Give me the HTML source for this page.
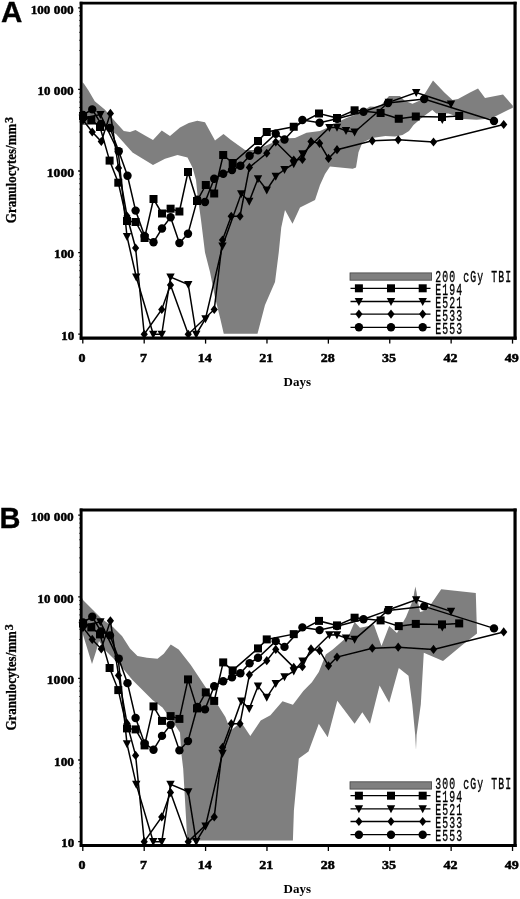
<!DOCTYPE html>
<html><head><meta charset="utf-8"><title>Figure</title>
<style>
html,body{margin:0;padding:0;background:#fff;}
body{width:520px;height:899px;overflow:hidden;font-family:"Liberation Sans",sans-serif;}
svg{display:block;filter:grayscale(1);}
</style></head><body>
<svg width="520" height="899" viewBox="0 0 520 899">
<defs><filter id="soft" x="0" y="0" width="100%" height="100%" filterUnits="userSpaceOnUse"><feGaussianBlur stdDeviation="0.35"/></filter></defs>
<rect width="520" height="899" fill="#fff"/>
<g filter="url(#soft)">
<polygon fill="#7f7f7f" points="82.50,82.00 84.50,84.50 88.50,90.50 94.75,101.25 104.75,109.50 110.00,115.50 116.00,122.50 123.75,131.00 130.00,132.00 135.50,130.00 145.00,135.50 153.00,140.00 161.75,130.50 170.00,136.00 180.00,127.50 188.75,123.00 197.30,120.80 205.00,122.30 208.00,127.70 215.00,140.50 223.50,134.00 231.00,140.00 245.00,150.00 255.00,150.00 265.00,146.00 282.50,138.50 295.00,138.00 306.50,132.70 320.00,131.00 326.70,128.00 341.00,120.50 347.00,117.70 357.50,114.00 370.00,106.50 379.60,107.00 389.00,96.00 400.00,96.00 405.00,101.00 412.50,103.75 420.00,100.50 424.00,95.00 433.00,80.40 444.40,92.50 452.50,100.00 458.00,99.00 470.00,92.50 478.00,88.50 485.00,98.00 503.00,94.50 512.80,105.80 512.80,107.70 491.00,118.50 476.70,119.70 463.00,119.00 454.00,115.40 448.50,113.40 436.30,113.40 432.30,110.00 423.00,116.70 413.50,125.00 409.00,131.00 402.50,135.00 395.00,136.50 385.40,136.00 372.00,138.00 362.30,142.70 358.50,152.30 356.00,167.50 352.70,168.70 330.00,166.50 325.00,174.00 320.00,185.00 315.00,200.00 300.00,207.50 292.50,223.75 285.00,210.00 281.25,227.50 278.75,252.50 275.00,282.00 265.00,305.00 257.50,333.75 223.75,333.75 220.00,317.50 215.00,297.50 210.00,272.00 205.00,252.50 201.00,220.00 197.50,195.00 196.00,180.00 192.50,167.50 187.50,157.50 177.50,155.00 165.00,158.75 153.00,165.00 132.50,152.50 116.00,134.00 100.00,125.00 82.00,125.00"/>
<polyline fill="none" stroke="#000" stroke-width="1.5" points="83.00,115.00 92.25,109.40 101.00,124.00 110.00,128.00 118.75,151.25 127.50,175.75 135.60,210.60 144.60,236.00 153.50,242.30 162.00,228.50 170.60,217.30 179.40,243.00 188.00,233.70 197.30,199.60 205.00,202.00 214.20,178.80 223.20,173.80 232.00,170.00 240.40,165.80 249.60,155.80 258.00,150.40 275.75,133.75 284.50,139.50 302.40,120.00 319.60,122.70 337.00,118.75 363.50,111.80 388.00,103.00 424.20,99.00 494.00,121.00"/>
<g fill="#000"><circle cx="83.00" cy="115.00" r="4.2"/><circle cx="92.25" cy="109.40" r="4.2"/><circle cx="101.00" cy="124.00" r="4.2"/><circle cx="110.00" cy="128.00" r="4.2"/><circle cx="118.75" cy="151.25" r="4.2"/><circle cx="127.50" cy="175.75" r="4.2"/><circle cx="135.60" cy="210.60" r="4.2"/><circle cx="144.60" cy="236.00" r="4.2"/><circle cx="153.50" cy="242.30" r="4.2"/><circle cx="162.00" cy="228.50" r="4.2"/><circle cx="170.60" cy="217.30" r="4.2"/><circle cx="179.40" cy="243.00" r="4.2"/><circle cx="188.00" cy="233.70" r="4.2"/><circle cx="197.30" cy="199.60" r="4.2"/><circle cx="205.00" cy="202.00" r="4.2"/><circle cx="214.20" cy="178.80" r="4.2"/><circle cx="223.20" cy="173.80" r="4.2"/><circle cx="232.00" cy="170.00" r="4.2"/><circle cx="240.40" cy="165.80" r="4.2"/><circle cx="249.60" cy="155.80" r="4.2"/><circle cx="258.00" cy="150.40" r="4.2"/><circle cx="275.75" cy="133.75" r="4.2"/><circle cx="284.50" cy="139.50" r="4.2"/><circle cx="302.40" cy="120.00" r="4.2"/><circle cx="319.60" cy="122.70" r="4.2"/><circle cx="337.00" cy="118.75" r="4.2"/><circle cx="363.50" cy="111.80" r="4.2"/><circle cx="388.00" cy="103.00" r="4.2"/><circle cx="424.20" cy="99.00" r="4.2"/><circle cx="494.00" cy="121.00" r="4.2"/></g>
<polyline fill="none" stroke="#000" stroke-width="1.5" points="83.00,116.00 91.30,120.00 100.00,127.00 109.60,160.60 118.30,182.70 127.00,221.00 135.60,222.00 144.60,238.00 153.50,199.00 162.00,213.50 170.60,208.70 179.40,211.50 188.00,172.00 197.00,201.00 205.80,185.00 214.20,193.50 223.20,155.00 232.70,163.00 258.00,141.00 266.75,132.00 293.75,126.75 319.00,113.50 337.00,118.00 354.60,110.30 380.60,113.00 398.75,118.75 415.80,116.50 442.00,117.00 459.20,116.00"/>
<g fill="#000"><rect x="79.00" y="112.00" width="8" height="8"/><rect x="87.30" y="116.00" width="8" height="8"/><rect x="96.00" y="123.00" width="8" height="8"/><rect x="105.60" y="156.60" width="8" height="8"/><rect x="114.30" y="178.70" width="8" height="8"/><rect x="123.00" y="217.00" width="8" height="8"/><rect x="131.60" y="218.00" width="8" height="8"/><rect x="140.60" y="234.00" width="8" height="8"/><rect x="149.50" y="195.00" width="8" height="8"/><rect x="158.00" y="209.50" width="8" height="8"/><rect x="166.60" y="204.70" width="8" height="8"/><rect x="175.40" y="207.50" width="8" height="8"/><rect x="184.00" y="168.00" width="8" height="8"/><rect x="193.00" y="197.00" width="8" height="8"/><rect x="201.80" y="181.00" width="8" height="8"/><rect x="210.20" y="189.50" width="8" height="8"/><rect x="219.20" y="151.00" width="8" height="8"/><rect x="228.70" y="159.00" width="8" height="8"/><rect x="254.00" y="137.00" width="8" height="8"/><rect x="262.75" y="128.00" width="8" height="8"/><rect x="289.75" y="122.75" width="8" height="8"/><rect x="315.00" y="109.50" width="8" height="8"/><rect x="333.00" y="114.00" width="8" height="8"/><rect x="350.60" y="106.30" width="8" height="8"/><rect x="376.60" y="109.00" width="8" height="8"/><rect x="394.75" y="114.75" width="8" height="8"/><rect x="411.80" y="112.50" width="8" height="8"/><rect x="438.00" y="113.00" width="8" height="8"/><rect x="455.20" y="112.00" width="8" height="8"/></g>
<polyline fill="none" stroke="#000" stroke-width="1.5" points="83.00,120.00 92.25,132.00 101.30,141.50 110.40,113.40 118.50,168.00 127.00,216.00 135.60,248.00 144.25,334.25 161.75,309.50 170.50,285.00 188.25,334.25 214.25,309.50 222.50,240.00 231.25,216.25 240.00,216.25 249.40,167.40 266.75,153.25 275.75,142.00 293.75,160.00 302.40,159.30 311.00,141.50 319.60,143.30 328.50,158.40 337.00,149.70 372.30,140.80 398.20,139.80 433.50,142.00 503.70,124.50"/>
<g fill="#000"><polygon points="83.00,115.40 86.60,120.00 83.00,124.60 79.40,120.00"/><polygon points="92.25,127.40 95.85,132.00 92.25,136.60 88.65,132.00"/><polygon points="101.30,136.90 104.90,141.50 101.30,146.10 97.70,141.50"/><polygon points="110.40,108.80 114.00,113.40 110.40,118.00 106.80,113.40"/><polygon points="118.50,163.40 122.10,168.00 118.50,172.60 114.90,168.00"/><polygon points="127.00,211.40 130.60,216.00 127.00,220.60 123.40,216.00"/><polygon points="135.60,243.40 139.20,248.00 135.60,252.60 132.00,248.00"/><polygon points="144.25,329.65 147.85,334.25 144.25,338.85 140.65,334.25"/><polygon points="161.75,304.90 165.35,309.50 161.75,314.10 158.15,309.50"/><polygon points="170.50,280.40 174.10,285.00 170.50,289.60 166.90,285.00"/><polygon points="188.25,329.65 191.85,334.25 188.25,338.85 184.65,334.25"/><polygon points="214.25,304.90 217.85,309.50 214.25,314.10 210.65,309.50"/><polygon points="222.50,235.40 226.10,240.00 222.50,244.60 218.90,240.00"/><polygon points="231.25,211.65 234.85,216.25 231.25,220.85 227.65,216.25"/><polygon points="240.00,211.65 243.60,216.25 240.00,220.85 236.40,216.25"/><polygon points="249.40,162.80 253.00,167.40 249.40,172.00 245.80,167.40"/><polygon points="266.75,148.65 270.35,153.25 266.75,157.85 263.15,153.25"/><polygon points="275.75,137.40 279.35,142.00 275.75,146.60 272.15,142.00"/><polygon points="293.75,155.40 297.35,160.00 293.75,164.60 290.15,160.00"/><polygon points="302.40,154.70 306.00,159.30 302.40,163.90 298.80,159.30"/><polygon points="311.00,136.90 314.60,141.50 311.00,146.10 307.40,141.50"/><polygon points="319.60,138.70 323.20,143.30 319.60,147.90 316.00,143.30"/><polygon points="328.50,153.80 332.10,158.40 328.50,163.00 324.90,158.40"/><polygon points="337.00,145.10 340.60,149.70 337.00,154.30 333.40,149.70"/><polygon points="372.30,136.20 375.90,140.80 372.30,145.40 368.70,140.80"/><polygon points="398.20,135.20 401.80,139.80 398.20,144.40 394.60,139.80"/><polygon points="433.50,137.40 437.10,142.00 433.50,146.60 429.90,142.00"/><polygon points="503.70,119.90 507.30,124.50 503.70,129.10 500.10,124.50"/></g>
<polyline fill="none" stroke="#000" stroke-width="1.5" points="83.00,118.00 100.40,114.50 118.30,152.00 127.00,236.50 136.25,277.00 153.25,334.25 161.75,334.25 170.50,277.00 188.25,284.50 196.25,334.25 205.50,318.75 222.50,246.00 241.25,193.75 249.25,201.25 258.00,178.75 266.75,190.00 275.75,176.25 284.50,169.50 293.75,163.75 302.50,153.75 329.40,127.50 337.00,127.40 346.00,130.70 354.60,132.00 388.80,102.30 416.20,92.50 451.00,104.00"/>
<g fill="#000"><polygon points="78.80,114.40 87.20,114.40 83.00,122.40"/><polygon points="96.20,110.90 104.60,110.90 100.40,118.90"/><polygon points="114.10,148.40 122.50,148.40 118.30,156.40"/><polygon points="122.80,232.90 131.20,232.90 127.00,240.90"/><polygon points="132.05,273.40 140.45,273.40 136.25,281.40"/><polygon points="149.05,330.65 157.45,330.65 153.25,338.65"/><polygon points="157.55,330.65 165.95,330.65 161.75,338.65"/><polygon points="166.30,273.40 174.70,273.40 170.50,281.40"/><polygon points="184.05,280.90 192.45,280.90 188.25,288.90"/><polygon points="192.05,330.65 200.45,330.65 196.25,338.65"/><polygon points="201.30,315.15 209.70,315.15 205.50,323.15"/><polygon points="218.30,242.40 226.70,242.40 222.50,250.40"/><polygon points="237.05,190.15 245.45,190.15 241.25,198.15"/><polygon points="245.05,197.65 253.45,197.65 249.25,205.65"/><polygon points="253.80,175.15 262.20,175.15 258.00,183.15"/><polygon points="262.55,186.40 270.95,186.40 266.75,194.40"/><polygon points="271.55,172.65 279.95,172.65 275.75,180.65"/><polygon points="280.30,165.90 288.70,165.90 284.50,173.90"/><polygon points="289.55,160.15 297.95,160.15 293.75,168.15"/><polygon points="298.30,150.15 306.70,150.15 302.50,158.15"/><polygon points="325.20,123.90 333.60,123.90 329.40,131.90"/><polygon points="332.80,123.80 341.20,123.80 337.00,131.80"/><polygon points="341.80,127.10 350.20,127.10 346.00,135.10"/><polygon points="350.40,128.40 358.80,128.40 354.60,136.40"/><polygon points="384.60,98.70 393.00,98.70 388.80,106.70"/><polygon points="412.00,88.90 420.40,88.90 416.20,96.90"/><polygon points="446.80,100.40 455.20,100.40 451.00,108.40"/></g>
<g fill="#000"><polygon points="438.10,116.00 446.50,116.00 442.30,124.00"/></g>
<g stroke="#000" fill="none"><line x1="81.15" y1="1.7" x2="81.15" y2="339.7" stroke-width="2.9"/><line x1="515.05" y1="1.7" x2="515.05" y2="339.7" stroke-width="3.2"/><line x1="79.7" y1="3.1" x2="516.65" y2="3.1" stroke-width="2.8"/><line x1="79.7" y1="338.1" x2="516.65" y2="338.1" stroke-width="3.2"/><line x1="82.80" y1="339" x2="82.80" y2="343.6" stroke-width="1.3"/><line x1="144.19" y1="339" x2="144.19" y2="343.6" stroke-width="1.3"/><line x1="205.58" y1="339" x2="205.58" y2="343.6" stroke-width="1.3"/><line x1="266.97" y1="339" x2="266.97" y2="343.6" stroke-width="1.3"/><line x1="328.36" y1="339" x2="328.36" y2="343.6" stroke-width="1.3"/><line x1="389.75" y1="339" x2="389.75" y2="343.6" stroke-width="1.3"/><line x1="451.14" y1="339" x2="451.14" y2="343.6" stroke-width="1.3"/><line x1="512.53" y1="339" x2="512.53" y2="343.6" stroke-width="1.3"/><line x1="78.2" y1="334.20" x2="80" y2="334.20" stroke-width="1.3"/><line x1="79.0" y1="309.64" x2="80" y2="309.64" stroke-width="0.9" stroke="#333"/><line x1="79.0" y1="295.27" x2="80" y2="295.27" stroke-width="0.9" stroke="#333"/><line x1="79.0" y1="285.07" x2="80" y2="285.07" stroke-width="0.9" stroke="#333"/><line x1="79.0" y1="277.16" x2="80" y2="277.16" stroke-width="0.9" stroke="#333"/><line x1="79.0" y1="270.70" x2="80" y2="270.70" stroke-width="0.9" stroke="#333"/><line x1="79.0" y1="265.24" x2="80" y2="265.24" stroke-width="0.9" stroke="#333"/><line x1="79.0" y1="260.51" x2="80" y2="260.51" stroke-width="0.9" stroke="#333"/><line x1="79.0" y1="256.33" x2="80" y2="256.33" stroke-width="0.9" stroke="#333"/><line x1="78.2" y1="252.60" x2="80" y2="252.60" stroke-width="1.3"/><line x1="79.0" y1="228.04" x2="80" y2="228.04" stroke-width="0.9" stroke="#333"/><line x1="79.0" y1="213.67" x2="80" y2="213.67" stroke-width="0.9" stroke="#333"/><line x1="79.0" y1="203.47" x2="80" y2="203.47" stroke-width="0.9" stroke="#333"/><line x1="79.0" y1="195.56" x2="80" y2="195.56" stroke-width="0.9" stroke="#333"/><line x1="79.0" y1="189.10" x2="80" y2="189.10" stroke-width="0.9" stroke="#333"/><line x1="79.0" y1="183.64" x2="80" y2="183.64" stroke-width="0.9" stroke="#333"/><line x1="79.0" y1="178.91" x2="80" y2="178.91" stroke-width="0.9" stroke="#333"/><line x1="79.0" y1="174.73" x2="80" y2="174.73" stroke-width="0.9" stroke="#333"/><line x1="78.2" y1="171.00" x2="80" y2="171.00" stroke-width="1.3"/><line x1="79.0" y1="146.44" x2="80" y2="146.44" stroke-width="0.9" stroke="#333"/><line x1="79.0" y1="132.07" x2="80" y2="132.07" stroke-width="0.9" stroke="#333"/><line x1="79.0" y1="121.87" x2="80" y2="121.87" stroke-width="0.9" stroke="#333"/><line x1="79.0" y1="113.96" x2="80" y2="113.96" stroke-width="0.9" stroke="#333"/><line x1="79.0" y1="107.50" x2="80" y2="107.50" stroke-width="0.9" stroke="#333"/><line x1="79.0" y1="102.04" x2="80" y2="102.04" stroke-width="0.9" stroke="#333"/><line x1="79.0" y1="97.31" x2="80" y2="97.31" stroke-width="0.9" stroke="#333"/><line x1="79.0" y1="93.13" x2="80" y2="93.13" stroke-width="0.9" stroke="#333"/><line x1="78.2" y1="89.40" x2="80" y2="89.40" stroke-width="1.3"/><line x1="79.0" y1="64.84" x2="80" y2="64.84" stroke-width="0.9" stroke="#333"/><line x1="79.0" y1="50.47" x2="80" y2="50.47" stroke-width="0.9" stroke="#333"/><line x1="79.0" y1="40.27" x2="80" y2="40.27" stroke-width="0.9" stroke="#333"/><line x1="79.0" y1="32.36" x2="80" y2="32.36" stroke-width="0.9" stroke="#333"/><line x1="79.0" y1="25.90" x2="80" y2="25.90" stroke-width="0.9" stroke="#333"/><line x1="79.0" y1="20.44" x2="80" y2="20.44" stroke-width="0.9" stroke="#333"/><line x1="79.0" y1="15.71" x2="80" y2="15.71" stroke-width="0.9" stroke="#333"/><line x1="79.0" y1="11.53" x2="80" y2="11.53" stroke-width="0.9" stroke="#333"/><line x1="78.2" y1="7.80" x2="80" y2="7.80" stroke-width="1.3"/></g>
<text x="0.9" y="22.1" font-family="Liberation Sans" font-weight="bold" font-size="29.6" stroke="#000" stroke-width="0.3">A</text>
<text x="30.8" y="13.60" textLength="19.6" lengthAdjust="spacingAndGlyphs" font-family="Liberation Serif" font-weight="bold" font-size="12" stroke="#000" stroke-width="0.45">100</text>
<text x="53.8" y="13.60" textLength="19.9" lengthAdjust="spacingAndGlyphs" font-family="Liberation Serif" font-weight="bold" font-size="12" stroke="#000" stroke-width="0.45">000</text>
<text x="37.5" y="95.20" textLength="12.9" lengthAdjust="spacingAndGlyphs" font-family="Liberation Serif" font-weight="bold" font-size="12" stroke="#000" stroke-width="0.45">10</text>
<text x="53.8" y="95.20" textLength="19.9" lengthAdjust="spacingAndGlyphs" font-family="Liberation Serif" font-weight="bold" font-size="12" stroke="#000" stroke-width="0.45">000</text>
<text x="46.8" y="176.80" textLength="27.2" lengthAdjust="spacingAndGlyphs" font-family="Liberation Serif" font-weight="bold" font-size="12" stroke="#000" stroke-width="0.45">1000</text>
<text x="54" y="258.40" textLength="20.0" lengthAdjust="spacingAndGlyphs" font-family="Liberation Serif" font-weight="bold" font-size="12" stroke="#000" stroke-width="0.45">100</text>
<text x="61.2" y="340.00" textLength="13.0" lengthAdjust="spacingAndGlyphs" font-family="Liberation Serif" font-weight="bold" font-size="12" stroke="#000" stroke-width="0.45">10</text>
<text x="78.60" y="362" textLength="7.0" lengthAdjust="spacingAndGlyphs" font-family="Liberation Serif" font-weight="bold" font-size="12.2" stroke="#000" stroke-width="0.5">0</text>
<text x="139.99" y="362" textLength="7.0" lengthAdjust="spacingAndGlyphs" font-family="Liberation Serif" font-weight="bold" font-size="12.2" stroke="#000" stroke-width="0.5">7</text>
<text x="197.88" y="362" textLength="14.0" lengthAdjust="spacingAndGlyphs" font-family="Liberation Serif" font-weight="bold" font-size="12.2" stroke="#000" stroke-width="0.5">14</text>
<text x="259.27" y="362" textLength="14.0" lengthAdjust="spacingAndGlyphs" font-family="Liberation Serif" font-weight="bold" font-size="12.2" stroke="#000" stroke-width="0.5">21</text>
<text x="320.66" y="362" textLength="14.0" lengthAdjust="spacingAndGlyphs" font-family="Liberation Serif" font-weight="bold" font-size="12.2" stroke="#000" stroke-width="0.5">28</text>
<text x="382.05" y="362" textLength="14.0" lengthAdjust="spacingAndGlyphs" font-family="Liberation Serif" font-weight="bold" font-size="12.2" stroke="#000" stroke-width="0.5">35</text>
<text x="443.44" y="362" textLength="14.0" lengthAdjust="spacingAndGlyphs" font-family="Liberation Serif" font-weight="bold" font-size="12.2" stroke="#000" stroke-width="0.5">42</text>
<text x="504.83" y="362" textLength="14.0" lengthAdjust="spacingAndGlyphs" font-family="Liberation Serif" font-weight="bold" font-size="12.2" stroke="#000" stroke-width="0.5">49</text>
<text x="283.5" y="386" font-family="Liberation Serif" font-weight="bold" font-size="13">Days</text>
<g transform="translate(16.2,223.2) rotate(-90)"><text x="0" y="0" textLength="99.5" lengthAdjust="spacingAndGlyphs" font-family="Liberation Serif" font-weight="bold" font-size="15" stroke="#000" stroke-width="0.3">Granulocytes/mm</text><text x="100.3" y="-3.7" font-family="Liberation Serif" font-weight="bold" font-size="12" stroke="#000" stroke-width="0.3">3</text></g>
<rect x="350" y="272.9" width="81.6" height="7.3" fill="#7f7f7f" stroke="#444" stroke-width="0.8"/>
<line x1="350.5" y1="288.3" x2="430.5" y2="288.3" stroke="#000" stroke-width="1.3"/><g fill="#000"><rect x="354.90" y="284.30" width="8" height="8"/><rect x="387.00" y="284.30" width="8" height="8"/><rect x="418.70" y="284.30" width="8" height="8"/></g>
<line x1="350.5" y1="301.5" x2="430.5" y2="301.5" stroke="#000" stroke-width="1.3"/><g fill="#000"><polygon points="354.70,297.90 363.10,297.90 358.90,305.90"/><polygon points="386.80,297.90 395.20,297.90 391.00,305.90"/><polygon points="418.50,297.90 426.90,297.90 422.70,305.90"/></g>
<line x1="350.5" y1="314.1" x2="430.5" y2="314.1" stroke="#000" stroke-width="1.3"/><g fill="#000"><polygon points="358.90,309.50 362.50,314.10 358.90,318.70 355.30,314.10"/><polygon points="391.00,309.50 394.60,314.10 391.00,318.70 387.40,314.10"/><polygon points="422.70,309.50 426.30,314.10 422.70,318.70 419.10,314.10"/></g>
<line x1="350.5" y1="327.3" x2="430.5" y2="327.3" stroke="#000" stroke-width="1.3"/><g fill="#000"><circle cx="358.90" cy="327.30" r="4.2"/><circle cx="391.00" cy="327.30" r="4.2"/><circle cx="422.70" cy="327.30" r="4.2"/></g>
<text transform="translate(435.3,281.80) scale(0.63,1)" x="0" y="0" letter-spacing="1.751" font-family="Liberation Mono" font-size="15.6" fill="#000" stroke="#000" stroke-width="0.35">200 cGy TBI</text>
<text transform="translate(435.3,294.80) scale(0.63,1)" x="0" y="0" letter-spacing="1.751" font-family="Liberation Mono" font-size="15.6" fill="#000" stroke="#000" stroke-width="0.35">E194</text>
<text transform="translate(435.3,307.70) scale(0.63,1)" x="0" y="0" letter-spacing="1.751" font-family="Liberation Mono" font-size="15.6" fill="#000" stroke="#000" stroke-width="0.35">E521</text>
<text transform="translate(435.3,320.50) scale(0.63,1)" x="0" y="0" letter-spacing="1.751" font-family="Liberation Mono" font-size="15.6" fill="#000" stroke="#000" stroke-width="0.35">E533</text>
<text transform="translate(435.3,333.60) scale(0.63,1)" x="0" y="0" letter-spacing="1.751" font-family="Liberation Mono" font-size="15.6" fill="#000" stroke="#000" stroke-width="0.35">E553</text>
<polygon fill="#7f7f7f" points="82.00,598.00 83.00,600.00 93.00,610.00 102.00,619.00 113.00,627.00 122.00,636.00 130.00,648.50 137.50,656.00 147.00,657.70 157.50,658.75 163.75,653.75 170.75,644.50 178.70,649.40 190.80,665.00 204.60,685.80 213.30,697.90 225.40,717.00 230.60,730.80 241.00,722.00 250.30,736.00 260.70,720.40 270.40,715.20 282.50,701.30 292.90,704.80 303.30,691.00 311.90,682.30 318.80,672.00 325.80,654.60 332.70,649.40 348.80,635.40 354.60,622.00 360.00,627.70 369.00,626.00 373.80,624.60 381.50,646.00 389.20,626.00 397.00,633.00 406.00,617.00 413.00,600.00 414.30,592.00 415.40,586.50 416.50,592.00 417.70,600.00 420.00,612.00 424.60,610.80 427.70,609.00 441.20,589.20 475.80,593.00 477.00,633.50 462.30,645.00 443.00,661.00 423.80,652.70 420.80,704.60 416.60,735.00 416.00,750.00 415.20,735.00 412.30,704.60 408.50,675.80 398.80,668.00 389.20,702.70 379.60,685.40 370.00,723.80 362.30,712.30 354.60,723.80 337.30,700.80 327.70,737.30 318.80,723.80 308.50,751.50 298.80,758.50 293.90,810.40 292.90,840.50 187.30,840.50 185.60,810.40 183.20,768.80 181.25,752.50 180.00,732.50 175.00,725.00 162.50,707.50 152.50,700.00 142.50,690.00 132.50,680.00 120.00,665.00 105.00,650.00 99.00,641.00 96.00,651.50 92.00,664.00 86.80,647.00 82.00,631.50"/>
<polyline fill="none" stroke="#000" stroke-width="1.5" points="83.00,622.40 92.25,616.80 101.00,631.40 110.00,635.40 118.75,658.65 127.50,683.15 135.60,718.00 144.60,743.40 153.50,749.70 162.00,735.90 170.60,724.70 179.40,750.40 188.00,741.10 197.30,707.00 205.00,709.40 214.20,686.20 223.20,681.20 232.00,677.40 240.40,673.20 249.60,663.20 258.00,657.80 275.75,641.15 284.50,646.90 302.40,627.40 319.60,630.10 337.00,626.15 363.50,619.20 388.00,610.40 424.20,606.40 494.00,628.40"/>
<g fill="#000"><circle cx="83.00" cy="622.40" r="4.2"/><circle cx="92.25" cy="616.80" r="4.2"/><circle cx="101.00" cy="631.40" r="4.2"/><circle cx="110.00" cy="635.40" r="4.2"/><circle cx="118.75" cy="658.65" r="4.2"/><circle cx="127.50" cy="683.15" r="4.2"/><circle cx="135.60" cy="718.00" r="4.2"/><circle cx="144.60" cy="743.40" r="4.2"/><circle cx="153.50" cy="749.70" r="4.2"/><circle cx="162.00" cy="735.90" r="4.2"/><circle cx="170.60" cy="724.70" r="4.2"/><circle cx="179.40" cy="750.40" r="4.2"/><circle cx="188.00" cy="741.10" r="4.2"/><circle cx="197.30" cy="707.00" r="4.2"/><circle cx="205.00" cy="709.40" r="4.2"/><circle cx="214.20" cy="686.20" r="4.2"/><circle cx="223.20" cy="681.20" r="4.2"/><circle cx="232.00" cy="677.40" r="4.2"/><circle cx="240.40" cy="673.20" r="4.2"/><circle cx="249.60" cy="663.20" r="4.2"/><circle cx="258.00" cy="657.80" r="4.2"/><circle cx="275.75" cy="641.15" r="4.2"/><circle cx="284.50" cy="646.90" r="4.2"/><circle cx="302.40" cy="627.40" r="4.2"/><circle cx="319.60" cy="630.10" r="4.2"/><circle cx="337.00" cy="626.15" r="4.2"/><circle cx="363.50" cy="619.20" r="4.2"/><circle cx="388.00" cy="610.40" r="4.2"/><circle cx="424.20" cy="606.40" r="4.2"/><circle cx="494.00" cy="628.40" r="4.2"/></g>
<polyline fill="none" stroke="#000" stroke-width="1.5" points="83.00,623.40 91.30,627.40 100.00,634.40 109.60,668.00 118.30,690.10 127.00,728.40 135.60,729.40 144.60,745.40 153.50,706.40 162.00,720.90 170.60,716.10 179.40,718.90 188.00,679.40 197.00,708.40 205.80,692.40 214.20,700.90 223.20,662.40 232.70,670.40 258.00,648.40 266.75,639.40 293.75,634.15 319.00,620.90 337.00,625.40 354.60,617.70 380.60,620.40 398.75,626.15 415.80,623.90 442.00,624.40 459.20,623.40"/>
<g fill="#000"><rect x="79.00" y="619.40" width="8" height="8"/><rect x="87.30" y="623.40" width="8" height="8"/><rect x="96.00" y="630.40" width="8" height="8"/><rect x="105.60" y="664.00" width="8" height="8"/><rect x="114.30" y="686.10" width="8" height="8"/><rect x="123.00" y="724.40" width="8" height="8"/><rect x="131.60" y="725.40" width="8" height="8"/><rect x="140.60" y="741.40" width="8" height="8"/><rect x="149.50" y="702.40" width="8" height="8"/><rect x="158.00" y="716.90" width="8" height="8"/><rect x="166.60" y="712.10" width="8" height="8"/><rect x="175.40" y="714.90" width="8" height="8"/><rect x="184.00" y="675.40" width="8" height="8"/><rect x="193.00" y="704.40" width="8" height="8"/><rect x="201.80" y="688.40" width="8" height="8"/><rect x="210.20" y="696.90" width="8" height="8"/><rect x="219.20" y="658.40" width="8" height="8"/><rect x="228.70" y="666.40" width="8" height="8"/><rect x="254.00" y="644.40" width="8" height="8"/><rect x="262.75" y="635.40" width="8" height="8"/><rect x="289.75" y="630.15" width="8" height="8"/><rect x="315.00" y="616.90" width="8" height="8"/><rect x="333.00" y="621.40" width="8" height="8"/><rect x="350.60" y="613.70" width="8" height="8"/><rect x="376.60" y="616.40" width="8" height="8"/><rect x="394.75" y="622.15" width="8" height="8"/><rect x="411.80" y="619.90" width="8" height="8"/><rect x="438.00" y="620.40" width="8" height="8"/><rect x="455.20" y="619.40" width="8" height="8"/></g>
<polyline fill="none" stroke="#000" stroke-width="1.5" points="83.00,627.40 92.25,639.40 101.30,648.90 110.40,620.80 118.50,675.40 127.00,723.40 135.60,755.40 144.25,841.65 161.75,816.90 170.50,792.40 188.25,841.65 214.25,816.90 222.50,747.40 231.25,723.65 240.00,723.65 249.40,674.80 266.75,660.65 275.75,649.40 293.75,667.40 302.40,666.70 311.00,648.90 319.60,650.70 328.50,665.80 337.00,657.10 372.30,648.20 398.20,647.20 433.50,649.40 503.70,631.90"/>
<g fill="#000"><polygon points="83.00,622.80 86.60,627.40 83.00,632.00 79.40,627.40"/><polygon points="92.25,634.80 95.85,639.40 92.25,644.00 88.65,639.40"/><polygon points="101.30,644.30 104.90,648.90 101.30,653.50 97.70,648.90"/><polygon points="110.40,616.20 114.00,620.80 110.40,625.40 106.80,620.80"/><polygon points="118.50,670.80 122.10,675.40 118.50,680.00 114.90,675.40"/><polygon points="127.00,718.80 130.60,723.40 127.00,728.00 123.40,723.40"/><polygon points="135.60,750.80 139.20,755.40 135.60,760.00 132.00,755.40"/><polygon points="144.25,837.05 147.85,841.65 144.25,846.25 140.65,841.65"/><polygon points="161.75,812.30 165.35,816.90 161.75,821.50 158.15,816.90"/><polygon points="170.50,787.80 174.10,792.40 170.50,797.00 166.90,792.40"/><polygon points="188.25,837.05 191.85,841.65 188.25,846.25 184.65,841.65"/><polygon points="214.25,812.30 217.85,816.90 214.25,821.50 210.65,816.90"/><polygon points="222.50,742.80 226.10,747.40 222.50,752.00 218.90,747.40"/><polygon points="231.25,719.05 234.85,723.65 231.25,728.25 227.65,723.65"/><polygon points="240.00,719.05 243.60,723.65 240.00,728.25 236.40,723.65"/><polygon points="249.40,670.20 253.00,674.80 249.40,679.40 245.80,674.80"/><polygon points="266.75,656.05 270.35,660.65 266.75,665.25 263.15,660.65"/><polygon points="275.75,644.80 279.35,649.40 275.75,654.00 272.15,649.40"/><polygon points="293.75,662.80 297.35,667.40 293.75,672.00 290.15,667.40"/><polygon points="302.40,662.10 306.00,666.70 302.40,671.30 298.80,666.70"/><polygon points="311.00,644.30 314.60,648.90 311.00,653.50 307.40,648.90"/><polygon points="319.60,646.10 323.20,650.70 319.60,655.30 316.00,650.70"/><polygon points="328.50,661.20 332.10,665.80 328.50,670.40 324.90,665.80"/><polygon points="337.00,652.50 340.60,657.10 337.00,661.70 333.40,657.10"/><polygon points="372.30,643.60 375.90,648.20 372.30,652.80 368.70,648.20"/><polygon points="398.20,642.60 401.80,647.20 398.20,651.80 394.60,647.20"/><polygon points="433.50,644.80 437.10,649.40 433.50,654.00 429.90,649.40"/><polygon points="503.70,627.30 507.30,631.90 503.70,636.50 500.10,631.90"/></g>
<polyline fill="none" stroke="#000" stroke-width="1.5" points="83.00,625.40 100.40,621.90 118.30,659.40 127.00,743.90 136.25,784.40 153.25,841.65 161.75,841.65 170.50,784.40 188.25,791.90 196.25,841.65 205.50,826.15 222.50,753.40 241.25,701.15 249.25,708.65 258.00,686.15 266.75,697.40 275.75,683.65 284.50,676.90 293.75,671.15 302.50,661.15 329.40,634.90 337.00,634.80 346.00,638.10 354.60,639.40 388.80,609.70 416.20,599.90 451.00,611.40"/>
<g fill="#000"><polygon points="78.80,621.80 87.20,621.80 83.00,629.80"/><polygon points="96.20,618.30 104.60,618.30 100.40,626.30"/><polygon points="114.10,655.80 122.50,655.80 118.30,663.80"/><polygon points="122.80,740.30 131.20,740.30 127.00,748.30"/><polygon points="132.05,780.80 140.45,780.80 136.25,788.80"/><polygon points="149.05,838.05 157.45,838.05 153.25,846.05"/><polygon points="157.55,838.05 165.95,838.05 161.75,846.05"/><polygon points="166.30,780.80 174.70,780.80 170.50,788.80"/><polygon points="184.05,788.30 192.45,788.30 188.25,796.30"/><polygon points="192.05,838.05 200.45,838.05 196.25,846.05"/><polygon points="201.30,822.55 209.70,822.55 205.50,830.55"/><polygon points="218.30,749.80 226.70,749.80 222.50,757.80"/><polygon points="237.05,697.55 245.45,697.55 241.25,705.55"/><polygon points="245.05,705.05 253.45,705.05 249.25,713.05"/><polygon points="253.80,682.55 262.20,682.55 258.00,690.55"/><polygon points="262.55,693.80 270.95,693.80 266.75,701.80"/><polygon points="271.55,680.05 279.95,680.05 275.75,688.05"/><polygon points="280.30,673.30 288.70,673.30 284.50,681.30"/><polygon points="289.55,667.55 297.95,667.55 293.75,675.55"/><polygon points="298.30,657.55 306.70,657.55 302.50,665.55"/><polygon points="325.20,631.30 333.60,631.30 329.40,639.30"/><polygon points="332.80,631.20 341.20,631.20 337.00,639.20"/><polygon points="341.80,634.50 350.20,634.50 346.00,642.50"/><polygon points="350.40,635.80 358.80,635.80 354.60,643.80"/><polygon points="384.60,606.10 393.00,606.10 388.80,614.10"/><polygon points="412.00,596.30 420.40,596.30 416.20,604.30"/><polygon points="446.80,607.80 455.20,607.80 451.00,615.80"/></g>
<g fill="#000"><polygon points="438.10,623.40 446.50,623.40 442.30,631.40"/></g>
<g stroke="#000" fill="none"><line x1="81.15" y1="508.59999999999997" x2="81.15" y2="847.0999999999999" stroke-width="2.9"/><line x1="515.05" y1="508.59999999999997" x2="515.05" y2="847.0999999999999" stroke-width="3.2"/><line x1="79.7" y1="510.0" x2="516.65" y2="510.0" stroke-width="2.8"/><line x1="79.7" y1="845.5" x2="516.65" y2="845.5" stroke-width="3.2"/><line x1="82.80" y1="846.4" x2="82.80" y2="851.0" stroke-width="1.3"/><line x1="144.19" y1="846.4" x2="144.19" y2="851.0" stroke-width="1.3"/><line x1="205.58" y1="846.4" x2="205.58" y2="851.0" stroke-width="1.3"/><line x1="266.97" y1="846.4" x2="266.97" y2="851.0" stroke-width="1.3"/><line x1="328.36" y1="846.4" x2="328.36" y2="851.0" stroke-width="1.3"/><line x1="389.75" y1="846.4" x2="389.75" y2="851.0" stroke-width="1.3"/><line x1="451.14" y1="846.4" x2="451.14" y2="851.0" stroke-width="1.3"/><line x1="512.53" y1="846.4" x2="512.53" y2="851.0" stroke-width="1.3"/><line x1="78.2" y1="841.60" x2="80" y2="841.60" stroke-width="1.3"/><line x1="79.0" y1="817.04" x2="80" y2="817.04" stroke-width="0.9" stroke="#333"/><line x1="79.0" y1="802.67" x2="80" y2="802.67" stroke-width="0.9" stroke="#333"/><line x1="79.0" y1="792.47" x2="80" y2="792.47" stroke-width="0.9" stroke="#333"/><line x1="79.0" y1="784.56" x2="80" y2="784.56" stroke-width="0.9" stroke="#333"/><line x1="79.0" y1="778.10" x2="80" y2="778.10" stroke-width="0.9" stroke="#333"/><line x1="79.0" y1="772.64" x2="80" y2="772.64" stroke-width="0.9" stroke="#333"/><line x1="79.0" y1="767.91" x2="80" y2="767.91" stroke-width="0.9" stroke="#333"/><line x1="79.0" y1="763.73" x2="80" y2="763.73" stroke-width="0.9" stroke="#333"/><line x1="78.2" y1="760.00" x2="80" y2="760.00" stroke-width="1.3"/><line x1="79.0" y1="735.44" x2="80" y2="735.44" stroke-width="0.9" stroke="#333"/><line x1="79.0" y1="721.07" x2="80" y2="721.07" stroke-width="0.9" stroke="#333"/><line x1="79.0" y1="710.87" x2="80" y2="710.87" stroke-width="0.9" stroke="#333"/><line x1="79.0" y1="702.96" x2="80" y2="702.96" stroke-width="0.9" stroke="#333"/><line x1="79.0" y1="696.50" x2="80" y2="696.50" stroke-width="0.9" stroke="#333"/><line x1="79.0" y1="691.04" x2="80" y2="691.04" stroke-width="0.9" stroke="#333"/><line x1="79.0" y1="686.31" x2="80" y2="686.31" stroke-width="0.9" stroke="#333"/><line x1="79.0" y1="682.13" x2="80" y2="682.13" stroke-width="0.9" stroke="#333"/><line x1="78.2" y1="678.40" x2="80" y2="678.40" stroke-width="1.3"/><line x1="79.0" y1="653.84" x2="80" y2="653.84" stroke-width="0.9" stroke="#333"/><line x1="79.0" y1="639.47" x2="80" y2="639.47" stroke-width="0.9" stroke="#333"/><line x1="79.0" y1="629.27" x2="80" y2="629.27" stroke-width="0.9" stroke="#333"/><line x1="79.0" y1="621.36" x2="80" y2="621.36" stroke-width="0.9" stroke="#333"/><line x1="79.0" y1="614.90" x2="80" y2="614.90" stroke-width="0.9" stroke="#333"/><line x1="79.0" y1="609.44" x2="80" y2="609.44" stroke-width="0.9" stroke="#333"/><line x1="79.0" y1="604.71" x2="80" y2="604.71" stroke-width="0.9" stroke="#333"/><line x1="79.0" y1="600.53" x2="80" y2="600.53" stroke-width="0.9" stroke="#333"/><line x1="78.2" y1="596.80" x2="80" y2="596.80" stroke-width="1.3"/><line x1="79.0" y1="572.24" x2="80" y2="572.24" stroke-width="0.9" stroke="#333"/><line x1="79.0" y1="557.87" x2="80" y2="557.87" stroke-width="0.9" stroke="#333"/><line x1="79.0" y1="547.67" x2="80" y2="547.67" stroke-width="0.9" stroke="#333"/><line x1="79.0" y1="539.76" x2="80" y2="539.76" stroke-width="0.9" stroke="#333"/><line x1="79.0" y1="533.30" x2="80" y2="533.30" stroke-width="0.9" stroke="#333"/><line x1="79.0" y1="527.84" x2="80" y2="527.84" stroke-width="0.9" stroke="#333"/><line x1="79.0" y1="523.11" x2="80" y2="523.11" stroke-width="0.9" stroke="#333"/><line x1="79.0" y1="518.93" x2="80" y2="518.93" stroke-width="0.9" stroke="#333"/><line x1="78.2" y1="515.20" x2="80" y2="515.20" stroke-width="1.3"/></g>
<text x="-0.6" y="527.9" font-family="Liberation Sans" font-weight="bold" font-size="29" stroke="#000" stroke-width="0.3">B</text>
<text x="30.8" y="521.00" textLength="19.6" lengthAdjust="spacingAndGlyphs" font-family="Liberation Serif" font-weight="bold" font-size="12" stroke="#000" stroke-width="0.45">100</text>
<text x="53.8" y="521.00" textLength="19.9" lengthAdjust="spacingAndGlyphs" font-family="Liberation Serif" font-weight="bold" font-size="12" stroke="#000" stroke-width="0.45">000</text>
<text x="37.5" y="602.60" textLength="12.9" lengthAdjust="spacingAndGlyphs" font-family="Liberation Serif" font-weight="bold" font-size="12" stroke="#000" stroke-width="0.45">10</text>
<text x="53.8" y="602.60" textLength="19.9" lengthAdjust="spacingAndGlyphs" font-family="Liberation Serif" font-weight="bold" font-size="12" stroke="#000" stroke-width="0.45">000</text>
<text x="46.8" y="684.20" textLength="27.2" lengthAdjust="spacingAndGlyphs" font-family="Liberation Serif" font-weight="bold" font-size="12" stroke="#000" stroke-width="0.45">1000</text>
<text x="54" y="765.80" textLength="20.0" lengthAdjust="spacingAndGlyphs" font-family="Liberation Serif" font-weight="bold" font-size="12" stroke="#000" stroke-width="0.45">100</text>
<text x="61.2" y="847.40" textLength="13.0" lengthAdjust="spacingAndGlyphs" font-family="Liberation Serif" font-weight="bold" font-size="12" stroke="#000" stroke-width="0.45">10</text>
<text x="78.60" y="869.4" textLength="7.0" lengthAdjust="spacingAndGlyphs" font-family="Liberation Serif" font-weight="bold" font-size="12.2" stroke="#000" stroke-width="0.5">0</text>
<text x="139.99" y="869.4" textLength="7.0" lengthAdjust="spacingAndGlyphs" font-family="Liberation Serif" font-weight="bold" font-size="12.2" stroke="#000" stroke-width="0.5">7</text>
<text x="197.88" y="869.4" textLength="14.0" lengthAdjust="spacingAndGlyphs" font-family="Liberation Serif" font-weight="bold" font-size="12.2" stroke="#000" stroke-width="0.5">14</text>
<text x="259.27" y="869.4" textLength="14.0" lengthAdjust="spacingAndGlyphs" font-family="Liberation Serif" font-weight="bold" font-size="12.2" stroke="#000" stroke-width="0.5">21</text>
<text x="320.66" y="869.4" textLength="14.0" lengthAdjust="spacingAndGlyphs" font-family="Liberation Serif" font-weight="bold" font-size="12.2" stroke="#000" stroke-width="0.5">28</text>
<text x="382.05" y="869.4" textLength="14.0" lengthAdjust="spacingAndGlyphs" font-family="Liberation Serif" font-weight="bold" font-size="12.2" stroke="#000" stroke-width="0.5">35</text>
<text x="443.44" y="869.4" textLength="14.0" lengthAdjust="spacingAndGlyphs" font-family="Liberation Serif" font-weight="bold" font-size="12.2" stroke="#000" stroke-width="0.5">42</text>
<text x="504.83" y="869.4" textLength="14.0" lengthAdjust="spacingAndGlyphs" font-family="Liberation Serif" font-weight="bold" font-size="12.2" stroke="#000" stroke-width="0.5">49</text>
<text x="283.5" y="893.4" font-family="Liberation Serif" font-weight="bold" font-size="13">Days</text>
<g transform="translate(16.2,730.5999999999999) rotate(-90)"><text x="0" y="0" textLength="99.5" lengthAdjust="spacingAndGlyphs" font-family="Liberation Serif" font-weight="bold" font-size="15" stroke="#000" stroke-width="0.3">Granulocytes/mm</text><text x="100.3" y="-3.7" font-family="Liberation Serif" font-weight="bold" font-size="12" stroke="#000" stroke-width="0.3">3</text></g>
<rect x="350" y="781.8" width="81.6" height="7.3" fill="#7f7f7f" stroke="#444" stroke-width="0.8"/>
<line x1="350.5" y1="795.7" x2="430.5" y2="795.7" stroke="#000" stroke-width="1.3"/><g fill="#000"><rect x="354.90" y="791.70" width="8" height="8"/><rect x="387.00" y="791.70" width="8" height="8"/><rect x="418.70" y="791.70" width="8" height="8"/></g>
<line x1="350.5" y1="808.9" x2="430.5" y2="808.9" stroke="#000" stroke-width="1.3"/><g fill="#000"><polygon points="354.70,805.30 363.10,805.30 358.90,813.30"/><polygon points="386.80,805.30 395.20,805.30 391.00,813.30"/><polygon points="418.50,805.30 426.90,805.30 422.70,813.30"/></g>
<line x1="350.5" y1="821.5" x2="430.5" y2="821.5" stroke="#000" stroke-width="1.3"/><g fill="#000"><polygon points="358.90,816.90 362.50,821.50 358.90,826.10 355.30,821.50"/><polygon points="391.00,816.90 394.60,821.50 391.00,826.10 387.40,821.50"/><polygon points="422.70,816.90 426.30,821.50 422.70,826.10 419.10,821.50"/></g>
<line x1="350.5" y1="834.7" x2="430.5" y2="834.7" stroke="#000" stroke-width="1.3"/><g fill="#000"><circle cx="358.90" cy="834.70" r="4.2"/><circle cx="391.00" cy="834.70" r="4.2"/><circle cx="422.70" cy="834.70" r="4.2"/></g>
<text transform="translate(435.3,789.20) scale(0.63,1)" x="0" y="0" letter-spacing="1.751" font-family="Liberation Mono" font-size="15.6" fill="#000" stroke="#000" stroke-width="0.35">300 cGy TBI</text>
<text transform="translate(435.3,802.20) scale(0.63,1)" x="0" y="0" letter-spacing="1.751" font-family="Liberation Mono" font-size="15.6" fill="#000" stroke="#000" stroke-width="0.35">E194</text>
<text transform="translate(435.3,815.10) scale(0.63,1)" x="0" y="0" letter-spacing="1.751" font-family="Liberation Mono" font-size="15.6" fill="#000" stroke="#000" stroke-width="0.35">E521</text>
<text transform="translate(435.3,827.90) scale(0.63,1)" x="0" y="0" letter-spacing="1.751" font-family="Liberation Mono" font-size="15.6" fill="#000" stroke="#000" stroke-width="0.35">E533</text>
<text transform="translate(435.3,841.00) scale(0.63,1)" x="0" y="0" letter-spacing="1.751" font-family="Liberation Mono" font-size="15.6" fill="#000" stroke="#000" stroke-width="0.35">E553</text>
</g></svg>
</body></html>
